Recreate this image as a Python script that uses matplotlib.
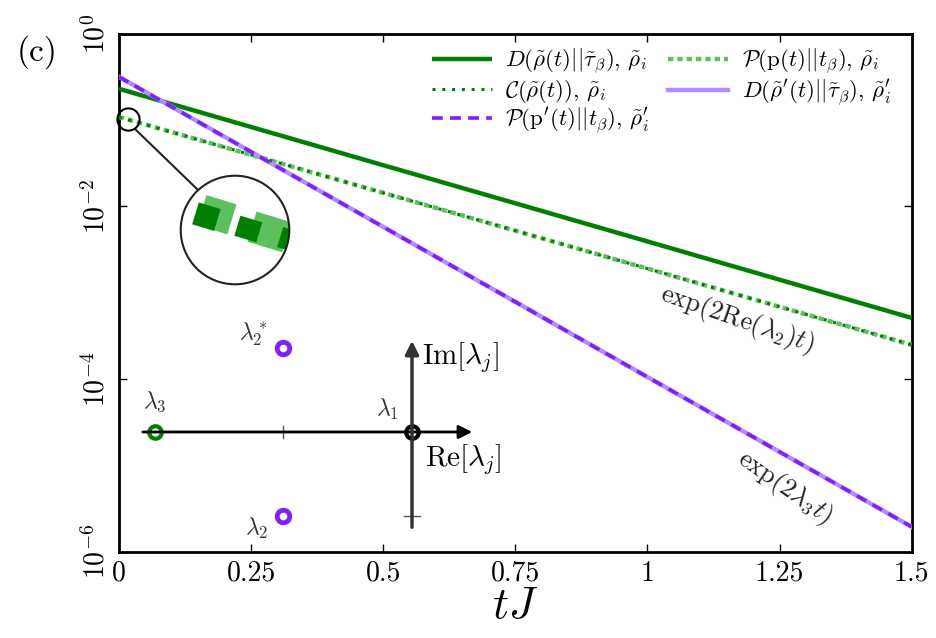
import matplotlib
matplotlib.use('Agg')
import matplotlib.pyplot as plt
from matplotlib.patches import Circle, Rectangle
from matplotlib.lines import Line2D

# 数据
t = [0, 0.25, 0.5, 0.75, 1.0, 1.25, 1.5]
d_rel = [0.231, 0.0834, 0.0301, 0.0109, 0.00394, 0.00142, 5.13e-4]
c_coh = [0.109, 0.0397, 0.0144, 0.00525, 0.00191, 6.9e-4, 2.5e-4]
p_cl = [0.109, 0.0397, 0.0144, 0.00525, 0.00191, 6.9e-4, 2.5e-4]
p_prime = [0.318, 0.0430, 0.00581, 7.87e-4, 1.06e-4, 1.44e-5, 1.95e-6]
d_prime = [0.318, 0.0430, 0.00581, 7.87e-4, 1.06e-4, 1.44e-5, 1.95e-6]

# 本征值示意 (Re, Im)
lam1 = (0.0, 0.0)
lam2 = (-0.5, -1.0)
lam2c = (-0.5, 1.0)
lam3 = (-1.0, 0.0)

xticks = [0, 0.25, 0.5, 0.75, 1.0, 1.25, 1.5]
xticklabels = ['0', '0.25', '0.5', '0.75', '1', '1.25', '1.5']
yticks = [1e-6, 1e-4, 1e-2, 1]

GREEN = '#008000'
LGREEN = '#5cc05c'
PURPLE = '#7f1fff'
LPURPLE = '#b58cff'

plt.rcParams['font.family'] = 'serif'
plt.rcParams['font.serif'] = ['cmr10', 'DejaVu Serif']
plt.rcParams['mathtext.fontset'] = 'cm'
plt.rcParams['axes.formatter.use_mathtext'] = True
plt.rcParams['axes.unicode_minus'] = False

fig = plt.figure(figsize=(9.36, 6.38), dpi=100)
ax = fig.add_axes([0.127, 0.135, 0.847, 0.812])

ax.semilogy(t, d_rel, color=GREEN, lw=3.2, solid_capstyle='butt',
            label=r'$D(\tilde{\rho}(t)||\tilde{\tau}_\beta)$, $\tilde{\rho}_i$', zorder=3)
ax.semilogy(t, p_cl, color=LGREEN, lw=3.2, ls=(0, (1.2, 0.9)),
            label=r'$\mathcal{P}(\mathrm{p}(t)||t_\beta)$, $\tilde{\rho}_i$', zorder=3)
ax.semilogy(t, c_coh, color=GREEN, lw=2.2, ls=(0, (1, 2.2)),
            label=r'$\mathcal{C}(\tilde{\rho}(t))$, $\tilde{\rho}_i$', zorder=4)
ax.semilogy(t, d_prime, color=LPURPLE, lw=3.2,
            label=r"$D(\tilde{\rho}'(t)||\tilde{\tau}_\beta)$, $\tilde{\rho}_i'$", zorder=3)
ax.semilogy(t, p_prime, color=PURPLE, lw=2.6, ls=(0, (3, 2)),
            label=r"$\mathcal{P}(\mathrm{p}'(t)||t_\beta)$, $\tilde{\rho}_i'$", zorder=4)

ax.set_xlim(0, 1.5)
ax.set_ylim(1e-6, 1)
ax.set_xticks(xticks)
ax.set_xticklabels(xticklabels)
ax.set_yticks(yticks)
ax.minorticks_off()
ax.tick_params(direction='in', top=True, right=True, length=6, width=1, labelsize=20, pad=6)
plt.setp(ax.get_yticklabels(), rotation=90, va='center')
for s in ax.spines.values():
    s.set_linewidth(2)
ax.set_xlabel(r'$tJ$', fontsize=32, labelpad=0)

# 图例
h, l = ax.get_legend_handles_labels()
order = [0, 2, 4, 1, 3]
ax.legend([h[i] for i in order], [l[i] for i in order], ncol=2, frameon=False,
          loc='upper right', bbox_to_anchor=(1.0, 1.015), fontsize=16.5,
          handlelength=2.6, columnspacing=0.8, labelspacing=0.05, handletextpad=0.6)

# 斜率标注
ax.text(0.78, 0.448, r'$\exp(2\mathrm{Re}(\lambda_2)t)$', transform=ax.transAxes, fontsize=19,
        rotation=-19, ha='center', va='center', color='#222222')
ax.text(0.84, 0.125, r'$\exp(2\lambda_3 t)$', transform=ax.transAxes, fontsize=19,
        rotation=-35, ha='center', va='center', color='#222222')

fig.text(0.018, 0.905, '(c)', fontsize=24)

# 放大镜示意
ax.plot([0.0114], [0.835], transform=ax.transAxes, marker='o', ms=16, mfc='none',
        mec='black', mew=1.5, clip_on=False, zorder=5)
fig.add_artist(Line2D([136 / 936, 197 / 936], [1 - 130 / 638, 1 - 189 / 638],
                      transform=fig.transFigure, color='#222222', lw=1.5))
axz = fig.add_axes([178 / 936, 1 - 287 / 638, 114 / 936, 114 / 638])
axz.set_xlim(-1.05, 1.05)
axz.set_ylim(-1.05, 1.05)
axz.axis('off')
circ = Circle((0, 0), 1, fill=False, lw=1.5, ec='#222222', zorder=5)
axz.add_patch(circ)
clip = Circle((0, 0), 1, transform=axz.transData)
sq = [((216, 214), 33, 33, LGREEN), ((271, 232), 38, 33, LGREEN),
      ((205, 216), 24, 24, GREEN), ((249, 229), 24, 22, GREEN), ((291, 240), 18, 22, GREEN)]
for (cx, cy), w, hh, col in sq:
    x0 = (cx - 235) / 57
    y0 = (230 - cy) / 57
    r = Rectangle((x0 - w / 114, y0 - hh / 114), w / 57, hh / 57, angle=-17,
                  rotation_point='center', color=col, lw=0)
    axz.add_patch(r)
    r.set_clip_path(clip)

# 复平面示意
axc = fig.add_axes([140 / 936, 1 - 530 / 638, 335 / 936, 192 / 638])
axc.set_xlim(-1.058, 0.245)
axc.set_ylim(-1.167, 1.119)
axc.axis('off')
axc.annotate('', xy=(0.245, 0), xytext=(-1.058, 0),
             arrowprops=dict(arrowstyle='-|>', color='black', lw=2, mutation_scale=20))
axc.annotate('', xy=(0, 1.119), xytext=(0, -1.167),
             arrowprops=dict(arrowstyle='-|>', color='#333333', lw=2.5, mutation_scale=20))
axc.plot([-0.5, -0.5], [-0.07, 0.07], color='#555555', lw=1)
axc.plot([-0.03, 0.03], [-1.0, -1.0], color='#555555', lw=1)
axc.plot(*lam3, 'o', ms=9, mfc='white', mec=GREEN, mew=3)
axc.plot(*lam1, 'o', ms=9, mfc='white', mec='black', mew=3)
axc.plot(*lam2, 'o', ms=9, mfc='white', mec=PURPLE, mew=3.5)
axc.plot(*lam2c, 'o', ms=9, mfc='white', mec=PURPLE, mew=3.5)
axc.text(lam3[0], 0.22, r'$\lambda_3$', fontsize=17, ha='center', va='bottom', color='#333333')
axc.text(-0.05, 0.12, r'$\lambda_1$', fontsize=17, ha='right', va='bottom', color='#333333')
axc.text(-0.56, 1.0, r'$\lambda_2^*$', fontsize=17, ha='right', va='bottom', color='#333333')
axc.text(-0.56, -1.0, r'$\lambda_2$', fontsize=17, ha='right', va='top', color='#333333')
axc.text(0.04, 0.88, r'$\mathrm{Im}[\lambda_j]$', fontsize=21, ha='left', va='center')
axc.text(0.05, -0.33, r'$\mathrm{Re}[\lambda_j]$', fontsize=21, ha='left', va='center')

fig.savefig('out.png', dpi=100)
